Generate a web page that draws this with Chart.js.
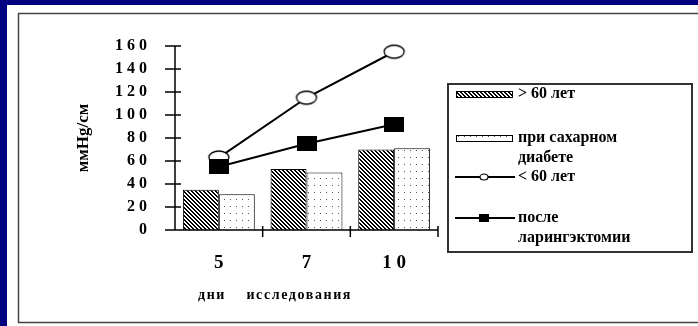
<!DOCTYPE html>
<html>
<head>
<meta charset="utf-8">
<script src="https://cdn.jsdelivr.net/npm/chart.js@4/dist/chart.umd.min.js"></script>
<style>
  html, body { margin: 0; padding: 0; background: #000080; overflow: hidden; }
  canvas { display: block; }
</style>
</head>
<body>
<canvas id="chart" width="698" height="326"></canvas>
<script>
// Days of the study (categories)
const days = ['5', '7', '1 0'];

// Series values, mmHg/cm
const over60 = [35, 53, 70];          // > 60 лет
const diabetes = [31, 50, 71];        // при сахарном диабете
const under60 = [63, 115, 155];       // < 60 лет
const laryngectomy = [55, 75, 92];    // после ларингэктомии

// Y axis tick labels, bottom to top
const yTickLabels = ['0', '2 0', '4 0', '6 0', '8 0', '1 0 0', '1 2 0', '1 4 0', '1 6 0'];

// Series names and how they wrap in the legend
const seriesNames = ['> 60 лет', 'при сахарном диабете', '< 60 лет', 'после ларингэктомии'];
const legendLines = [['> 60 лет'], ['при сахарном', 'диабете'], ['< 60 лет'], ['после', 'ларингэктомии']];

const yTitle = 'ммHg/см';
const xTitle = 'дни    исследования';

const SERIF = '"Liberation Serif", "Times New Roman", serif';

const canvas = document.getElementById('chart');
const ctx = canvas.getContext('2d');

// Fill patterns for the bars
function makeHatch() {
  const n = 4;
  const t = document.createElement('canvas');
  t.width = n; t.height = n;
  const g = t.getContext('2d');
  g.fillStyle = '#fff'; g.fillRect(0, 0, n, n);
  g.fillStyle = '#000';
  for (let y = 0; y < n; y++)
    for (let x = 0; x < n; x++)
      if (((x - y) % n + n) % n < 2) g.fillRect(x, y, 1, 1);
  return ctx.createPattern(t, 'repeat');
}
function makeDots() {
  const t = document.createElement('canvas');
  t.width = 6; t.height = 7;
  const g = t.getContext('2d');
  g.fillStyle = '#fff'; g.fillRect(0, 0, 6, 7);
  g.fillStyle = '#555';
  g.fillRect(2, 3, 1, 1);
  return ctx.createPattern(t, 'repeat');
}
const hatch = makeHatch();
const dots = makeDots();

// Marker images
function ellipseMarker(w, h, lw) {
  const t = document.createElement('canvas');
  t.width = w + 4; t.height = h + 4;
  const g = t.getContext('2d');
  g.beginPath();
  g.ellipse(t.width / 2, t.height / 2, w / 2, h / 2, 0, 0, Math.PI * 2);
  g.fillStyle = '#fff'; g.fill();
  g.lineWidth = lw; g.strokeStyle = '#000'; g.stroke();
  return t;
}
function rectMarker(w, h) {
  const t = document.createElement('canvas');
  t.width = w; t.height = h;
  const g = t.getContext('2d');
  g.fillStyle = '#000'; g.fillRect(0, 0, w, h);
  return t;
}
const circleBig = ellipseMarker(20, 13, 1.3);
const squareBig = rectMarker(20, 15);
const circleSmall = ellipseMarker(8, 6, 1.2);
const squareSmall = rectMarker(10, 8);

// Page frame: navy surround, white panel with a thin border
const framePlugin = {
  id: 'frame',
  beforeDraw(chart) {
    const c = chart.ctx;
    c.save();
    c.fillStyle = '#000080';
    c.fillRect(0, 0, chart.width, chart.height);
    c.fillStyle = '#fff';
    c.fillRect(7, 5, chart.width - 7, chart.height - 5);
    c.strokeStyle = '#444';
    c.lineWidth = 1.5;
    c.beginPath();
    c.moveTo(chart.width + 2, 13.5);
    c.lineTo(18.5, 13.5);
    c.lineTo(18.5, 322.5);
    c.lineTo(chart.width + 2, 322.5);
    c.stroke();
    c.restore();
  }
};

// Axis lines with crossing tick marks
const axesPlugin = {
  id: 'axes',
  afterDatasetsDraw(chart) {
    const c = chart.ctx;
    const xs = chart.scales.x, ys = chart.scales.y;
    const a = chart.chartArea;
    c.save();
    c.strokeStyle = '#000';
    c.lineWidth = 1.5;
    c.beginPath();
    c.moveTo(a.left, ys.getPixelForValue(ys.max));
    c.lineTo(a.left, a.bottom);
    ys.ticks.forEach(t => {
      const y = ys.getPixelForValue(t.value);
      c.moveTo(a.left - 10, y);
      c.lineTo(a.left + 6, y);
    });
    c.moveTo(a.left - 10, a.bottom);
    c.lineTo(a.right, a.bottom);
    const half = (a.right - a.left) / days.length / 2;
    days.forEach((d, i) => {
      const x = xs.getPixelForValue(i) + half;
      c.moveTo(x, a.bottom - 4);
      c.lineTo(x, a.bottom + 7);
    });
    c.stroke();
    c.restore();
  }
};

// Axis titles
const titlesPlugin = {
  id: 'titles',
  afterDraw(chart) {
    const c = chart.ctx;
    c.save();
    c.fillStyle = '#000';
    c.font = 'bold 17px ' + SERIF;
    c.textAlign = 'center';
    c.textBaseline = 'middle';
    c.translate(84, 138);
    c.rotate(-Math.PI / 2);
    c.fillText(yTitle, 0, 0);
    c.restore();

    c.save();
    c.fillStyle = '#000';
    c.font = 'bold 14px ' + SERIF;
    c.letterSpacing = '1.6px';
    c.textAlign = 'left';
    c.textBaseline = 'middle';
    c.fillText(xTitle, 198, 295);
    c.restore();
  }
};

// Legend box at the right
const legendPlugin = {
  id: 'boxLegend',
  afterDraw(chart) {
    const c = chart.ctx;
    const ds = chart.data.datasets;
    c.save();
    c.strokeStyle = '#333';
    c.lineWidth = 2;
    c.strokeRect(448, 84, 244, 168);

    const rows = [94, 138, 177, 218];
    const sx0 = 456, sx1 = 513, tx = 518, lh = 20;
    c.font = 'bold 16px ' + SERIF;
    c.fillStyle = '#000';
    c.textAlign = 'left';
    c.textBaseline = 'middle';

    ds.forEach((d, i) => {
      const y = rows[i];
      if (d.type === 'bar') {
        c.fillStyle = d.backgroundColor;
        c.fillRect(sx0, y - 3, sx1 - sx0, 7);
        c.strokeStyle = '#000';
        c.lineWidth = 1;
        c.strokeRect(sx0 + 0.5, y - 2.5, sx1 - sx0 - 1, 6);
      } else {
        c.strokeStyle = '#000';
        c.lineWidth = 2;
        c.beginPath();
        c.moveTo(sx0 - 1, y);
        c.lineTo(sx1 + 2, y);
        c.stroke();
        const m = d.legendMarker;
        c.drawImage(m, 484 - m.width / 2, y - m.height / 2);
      }
      c.fillStyle = '#000';
      legendLines[i].forEach((line, k) => c.fillText(line, tx, y + k * lh));
    });
    c.restore();
  }
};

new Chart(canvas, {
  data: {
    labels: days,
    datasets: [
      {
        type: 'bar', label: seriesNames[0], data: over60,
        backgroundColor: hatch, borderColor: '#000', borderWidth: 1,
        categoryPercentage: 0.82, barPercentage: 1.0, order: 2
      },
      {
        type: 'bar', label: seriesNames[1], data: diabetes,
        backgroundColor: dots, borderColor: '#000', borderWidth: 1,
        categoryPercentage: 0.82, barPercentage: 1.0, order: 3
      },
      {
        type: 'line', label: seriesNames[2], data: under60,
        borderColor: '#000', borderWidth: 2, fill: false, tension: 0, clip: false,
        pointStyle: circleBig, legendMarker: circleSmall, order: 1
      },
      {
        type: 'line', label: seriesNames[3], data: laryngectomy,
        borderColor: '#000', borderWidth: 2, fill: false, tension: 0, clip: false,
        pointStyle: squareBig, legendMarker: squareSmall, order: 0
      }
    ]
  },
  options: {
    responsive: false,
    animation: false,
    events: [],
    layout: { padding: { left: 60, right: 260, top: 46, bottom: 0 } },
    plugins: { legend: { display: false }, tooltip: { enabled: false } },
    scales: {
      x: {
        type: 'category',
        offset: true,
        grid: { display: false, drawTicks: false },
        border: { display: false },
        ticks: { color: '#000', font: { family: SERIF, size: 19, weight: 'bold' }, padding: 22 },
        afterFit(s) { s.height = 96; }
      },
      y: {
        min: 0, max: 160,
        grid: { display: false, drawTicks: false },
        border: { display: false },
        ticks: {
          stepSize: 20,
          color: '#000',
          font: { family: SERIF, size: 16, weight: 'bold' },
          padding: 28,
          callback: (v, i) => yTickLabels[i]
        },
        afterFit(s) { s.width = 115; }
      }
    }
  },
  plugins: [framePlugin, axesPlugin, titlesPlugin, legendPlugin]
});
</script>
</body>
</html>
